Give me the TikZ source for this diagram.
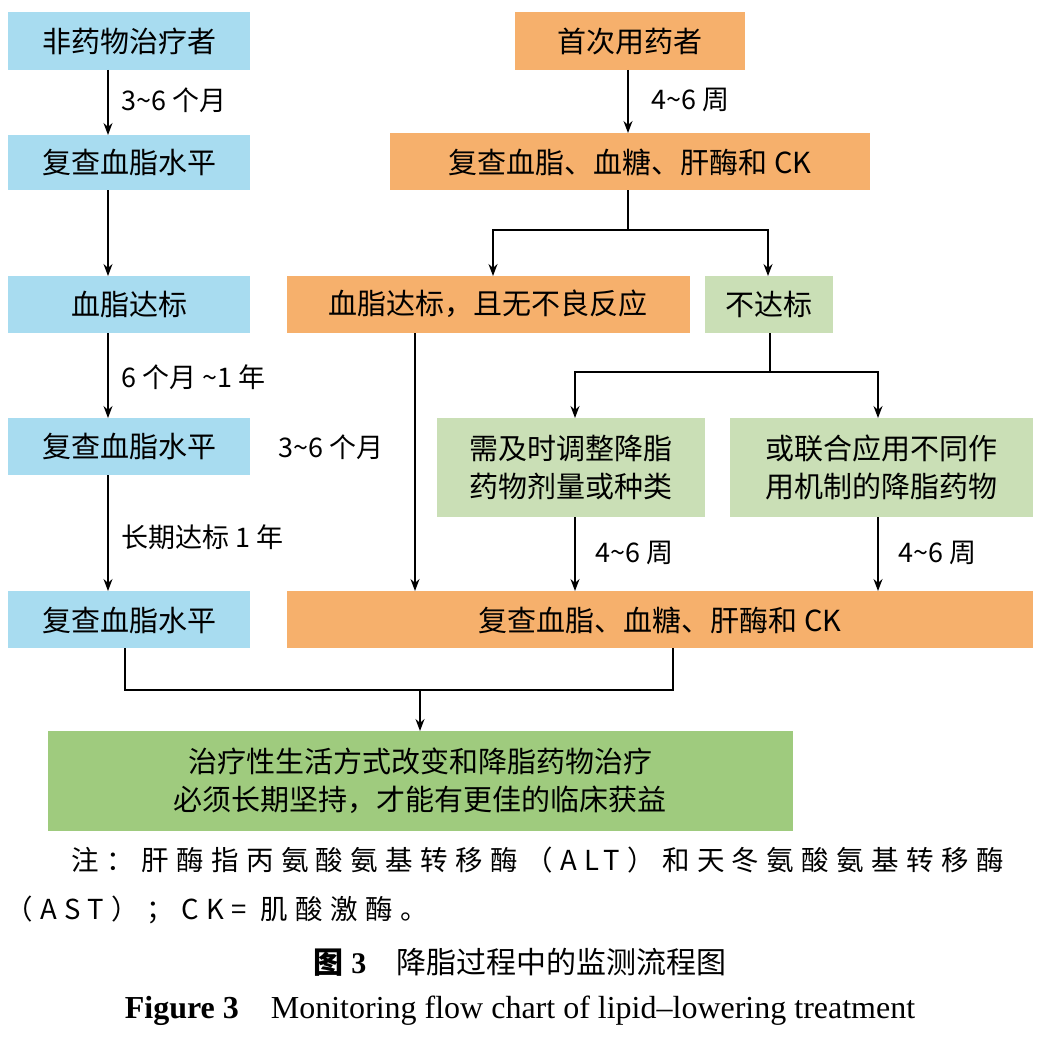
\documentclass[tikz,border=0pt]{standalone}
\usepackage{fontspec}
\setmainfont{Liberation Serif}
\newfontfamily\cjk{Noto Sans CJK SC}
\newfontfamily\cjknote[LetterSpace=27]{Noto Sans CJK SC}
\usetikzlibrary{arrows.meta}
\definecolor{cblue}{HTML}{A8DCF0}
\definecolor{corange}{HTML}{F6B06C}
\definecolor{clgreen}{HTML}{CADFB6}
\definecolor{cgreen}{HTML}{9FCB7E}
\tikzset{
 bx/.style={inner sep=0pt,align=center,font=\cjk\fontsize{29}{38}\selectfont},
 lab/.style={anchor=west,font=\cjk\fontsize{27}{30}\selectfont},
 ar/.style={-{Stealth[length=12pt,width=9pt]},line width=1.3pt},
 ln/.style={line width=1.3pt}
}
\begin{document}
\begin{tikzpicture}[x=1pt,y=-1pt]
\useasboundingbox (0,0) rectangle (1046,1038);
% boxes
\fill[cblue] (8,12) rectangle (250,70); \node[bx] (a1) at (129,41) {非药物治疗者};
\fill[cblue] (8,135) rectangle (250,190); \node[bx] (a2) at (129,162) {复查血脂水平};
\fill[cblue] (8,276) rectangle (250,333); \node[bx] (a3) at (129,304) {血脂达标};
\fill[cblue] (8,418) rectangle (250,475); \node[bx] (a4) at (129,446) {复查血脂水平};
\fill[cblue] (8,591) rectangle (250,648); \node[bx] (a5) at (129,620) {复查血脂水平};
\fill[corange] (515,12) rectangle (745,70); \node[bx] (b1) at (630,41) {首次用药者};
\fill[corange] (390,133) rectangle (870,190); \node[bx] (b2) at (630,162) {复查血脂、血糖、肝酶和 CK};
\fill[corange] (287,276) rectangle (690,333); \node[bx] (b3) at (488,304) {血脂达标，且无不良反应};
\fill[clgreen] (705,276) rectangle (833,333); \node[bx] (c1) at (769,304) {不达标};
\fill[clgreen] (437,418) rectangle (705,517); \node[bx] (c2) at (571,467) {需及时调整降脂\\药物剂量或种类};
\fill[clgreen] (730,418) rectangle (1033,517); \node[bx] (c3) at (881,467) {或联合应用不同作\\用机制的降脂药物};
\fill[corange] (287,591) rectangle (1033,648); \node[bx] (b4) at (660,620) {复查血脂、血糖、肝酶和 CK};
\fill[cgreen] (48,731) rectangle (793,831); \node[bx] (d) at (420,781) {治疗性生活方式改变和降脂药物治疗\\必须长期坚持，才能有更佳的临床获益};
% left arrows
\draw[ar] (108,70) -- (108,135); \node[lab] at (118,100) {3\textasciitilde6 个月};
\draw[ar] (108,190) -- (108,276);
\draw[ar] (108,333) -- (108,418); \node[lab] at (118,377) {6 个月 \textasciitilde1 年};
\draw[ar] (108,475) -- (108,591); \node[lab] at (118,537) {长期达标 1 年};
% right
\draw[ar] (628,70) -- (628,133); \node[lab] at (648,100) {4\textasciitilde6 周};
\draw[ln] (628,190) -- (628,230); \draw[ln] (493,230) -- (768,230);
\draw[ar] (493,229.35) -- (493,276); \draw[ar] (768,229.35) -- (768,276);
\draw[ln] (770,333) -- (770,372); \draw[ln] (575,372) -- (878,372);
\draw[ar] (575,371.35) -- (575,418); \draw[ar] (878,371.35) -- (878,418);
\draw[ar] (415,333) -- (415,591); \node[lab] at (275,447) {3\textasciitilde6 个月};
\draw[ar] (575,517) -- (575,591); \node[lab] at (592,553) {4\textasciitilde6 周};
\draw[ar] (878,517) -- (878,591); \node[lab] at (895,553) {4\textasciitilde6 周};
% bottom
\draw[ln] (125,648) -- (125,690) -- (673,690) -- (673,648);
\draw[ar] (420,690) -- (420,731);
% notes
\node[anchor=west,font=\cjknote\fontsize{27.5}{30}\selectfont] at (68,860) {注：肝酶指丙氨酸氨基转移酶（ALT）和天冬氨酸氨基转移酶};
\node[anchor=west,font=\cjknote\fontsize{27.5}{30}\selectfont] at (2,910) {（AST）；CK= 肌酸激酶。};
\node[font=\fontsize{30}{34}\selectfont] at (520,962) {{\cjk\bfseries 图} \textbf{3}\quad{\cjk 降脂过程中的监测流程图}};
\node[font=\fontsize{32}{36}\selectfont] at (520,1011) {\textbf{Figure 3}\quad Monitoring flow chart of lipid--lowering treatment};
\end{tikzpicture}
\end{document}
